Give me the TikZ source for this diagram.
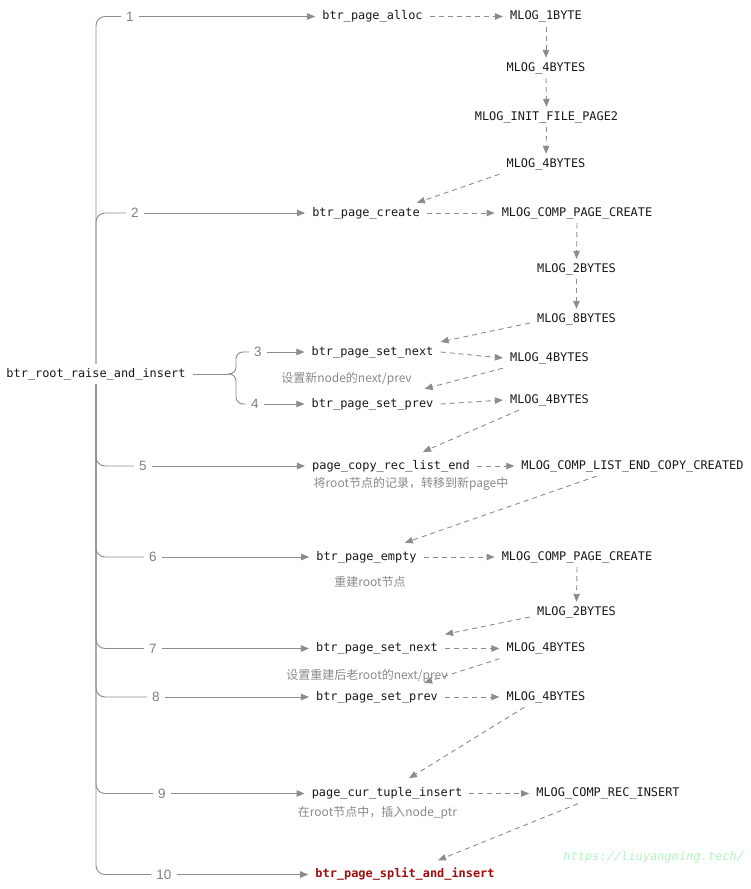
\documentclass[tikz,border=0pt]{standalone}
\usepackage{fontspec}
\newfontfamily\monofont{DejaVu Sans Mono}
\newfontfamily\wmfont{DejaVu Sans Mono}[FakeSlant=0.2]
\newfontfamily\numfont{Liberation Sans}
\newfontfamily\cjkfont{Noto Sans CJK SC}
\usetikzlibrary{arrows.meta}
\definecolor{linegray}{HTML}{8C8C8C}
\definecolor{numgray}{HTML}{808080}
\definecolor{notegray}{HTML}{8A8A8A}
\definecolor{darkred}{HTML}{A00D0D}
\definecolor{wmgreen}{HTML}{B2F3C2}
\begin{document}
\begin{tikzpicture}[x=1pt,y=-1pt,
  fn/.style={font=\monofont\fontsize{11.9}{14}\selectfont, text=black!90, inner xsep=7pt, inner ysep=4pt, text height=9pt, text depth=3pt},
  redfn/.style={fn, font=\monofont\bfseries\fontsize{11.9}{14}\selectfont, text=darkred},
  num/.style={font=\numfont\fontsize{13.5}{15}\selectfont, text=numgray, inner sep=5pt},
  note/.style={font=\cjkfont\fontsize{12}{14}\selectfont, text=notegray, inner sep=2pt},
  trunk/.style={draw=linegray, line width=0.9pt, rounded corners=9pt},
  solidarrow/.style={draw=linegray, line width=0.9pt, -{Triangle[length=8pt,width=6.5pt]}},
  dasharrow/.style={draw=linegray, line width=0.9pt, dash pattern=on 5pt off 4pt, -{Triangle[length=8pt,width=6.5pt]}}
]
\fill[white] (0,0) rectangle (750,889);
\useasboundingbox (0,0) rectangle (750,889);

% root
\node[fn] (root) at (96,374) {btr\_root\_raise\_and\_insert};

% numbers
\node[num] (n1) at (130,16.5) {1};
\node[num] (n2) at (135,213) {2};
\node[num] (n3) at (258,352) {3};
\node[num] (n4) at (255,404) {4};
\node[num] (n5) at (143,466) {5};
\node[num] (n6) at (153,557) {6};
\node[num] (n7) at (153,648.5) {7};
\node[num] (n8) at (156,697) {8};
\node[num] (n9) at (162,793.5) {9};
\node[num] (n10) at (164,874.5) {10};

% functions
\node[fn] (f1) at (372.5,16.5) {btr\_page\_alloc};
\node[fn] (f2) at (366,213) {btr\_page\_create};
\node[fn] (f3) at (372.5,352) {btr\_page\_set\_next};
\node[fn] (f4) at (372.5,404) {btr\_page\_set\_prev};
\node[fn] (f5) at (391,466) {page\_copy\_rec\_list\_end};
\node[fn] (f6) at (366.5,557) {btr\_page\_empty};
\node[fn] (f7) at (377,648.5) {btr\_page\_set\_next};
\node[fn] (f8) at (377,697) {btr\_page\_set\_prev};
\node[fn] (f9) at (387,793.5) {page\_cur\_tuple\_insert};
\node[redfn] (f10) at (405,874.5) {btr\_page\_split\_and\_insert};

% mlog nodes
\node[fn] (a1) at (546,16.5) {MLOG\_1BYTE};
\node[fn] (a2) at (546,68) {MLOG\_4BYTES};
\node[fn] (a3) at (546.5,117) {MLOG\_INIT\_FILE\_PAGE2};
\node[fn] (a4) at (546,164) {MLOG\_4BYTES};
\node[fn] (b1) at (577,213) {MLOG\_COMP\_PAGE\_CREATE};
\node[fn] (b2) at (576.5,269) {MLOG\_2BYTES};
\node[fn] (b3) at (576.5,319) {MLOG\_8BYTES};
\node[fn] (c3) at (549.5,358) {MLOG\_4BYTES};
\node[fn] (c4) at (549.5,400) {MLOG\_4BYTES};
\node[fn] (c5) at (632.5,466) {MLOG\_COMP\_LIST\_END\_COPY\_CREATED};
\node[fn] (d1) at (577,557) {MLOG\_COMP\_PAGE\_CREATE};
\node[fn] (d2) at (576.5,612) {MLOG\_2BYTES};
\node[fn] (d3) at (546,648.5) {MLOG\_4BYTES};
\node[fn] (d4) at (546,697) {MLOG\_4BYTES};
\node[fn] (e1) at (608,793.5) {MLOG\_COMP\_REC\_INSERT};

% notes
\node[note] (t3) at (346.5,379) {设置新node的next/prev};
\node[note] (t5) at (411,484) {将root节点的记录，转移到新page中};
\node[note] (t6) at (370,582) {重建root节点};
\node[note] (t7) at (367,676) {设置重建后老root的next/prev};
\node[note] (t9) at (377.5,813) {在root节点中，插入node\_ptr};

% watermark
\node[font=\wmfont\fontsize{12}{14}\selectfont, text=wmgreen, inner sep=0pt] (wm) at (653,857) {https://liuyangming.tech/};

% trunk and branches
\draw[trunk] (root.north) -- (96,16.5) -- (n1.west);
\draw[trunk] (root.north) -- (96,213) -- (n2.west);
\draw[trunk] (root.south) -- (96,466) -- (n5.west);
\draw[trunk] (root.south) -- (96,557) -- (n6.west);
\draw[trunk] (root.south) -- (96,648.5) -- (n7.west);
\draw[trunk] (root.south) -- (96,697) -- (n8.west);
\draw[trunk] (root.south) -- (96,793.5) -- (n9.west);
\draw[trunk] (root.south) -- (96,874.5) -- (n10.west);

% brace
\draw[draw=linegray, line width=0.9pt] (root.east) -- (228,374) coordinate (bm);
\draw[trunk, rounded corners=7pt] (bm) -| (236,352) -- (n3.west);
\draw[trunk, rounded corners=7pt] (bm) -| (236,404) -- (n4.west);

% numbered arrows
\foreach \i in {1,...,10} { \draw[solidarrow] (n\i.east) -- (f\i.west); }

% dashed log arrows
\draw[dasharrow] (f1.east) -- (a1.west);
\draw[dasharrow] (a1.south) -- (a2.north);
\draw[dasharrow] (a2.south) -- (a3.north);
\draw[dasharrow] (a3.south) -- (a4.north);
\draw[dasharrow] (a4.south west) -- ([xshift=-10pt]f2.north east);
\draw[dasharrow] (f2.east) -- (b1.west);
\draw[dasharrow] (b1.south) -- (b2.north);
\draw[dasharrow] (b2.south) -- (b3.north);
\draw[dasharrow] ([yshift=-4pt]b3.west) -- (f3.north east);
\draw[dasharrow] (f3.east) -- (c3.west);
\draw[dasharrow] (c3.south west) -- ([xshift=-16pt,yshift=5pt]f4.north east);
\draw[dasharrow] (f4.east) -- (c4.west);
\draw[dasharrow] ([xshift=16pt]c4.south west) -- ([xshift=32pt,yshift=4pt]f5.north);
\draw[dasharrow] (f5.east) -- (c5.west);
\draw[dasharrow] ([xshift=-36pt]c5.south) -- ([xshift=-19pt,yshift=4pt]f6.north east);
\draw[dasharrow] (f6.east) -- (d1.west);
\draw[dasharrow] (d1.south) -- (d2.north);
\draw[dasharrow] ([yshift=-5pt]d2.west) -- ([yshift=4pt]f7.north east);
\draw[dasharrow] (f7.east) -- (d3.west);
\draw[dasharrow] (d3.south west) -- ([xshift=-21pt,yshift=4pt]f8.north east);
\draw[dasharrow] (f8.east) -- (d4.west);
\draw[dasharrow] ([xshift=25pt]d4.south west) -- ([xshift=22pt,yshift=5pt]f9.north);
\draw[dasharrow] (f9.east) -- (e1.west);
\draw[dasharrow] ([xshift=-30pt]e1.south) -- ([xshift=33pt,yshift=4pt]f10.north);
\end{tikzpicture}
\end{document}
